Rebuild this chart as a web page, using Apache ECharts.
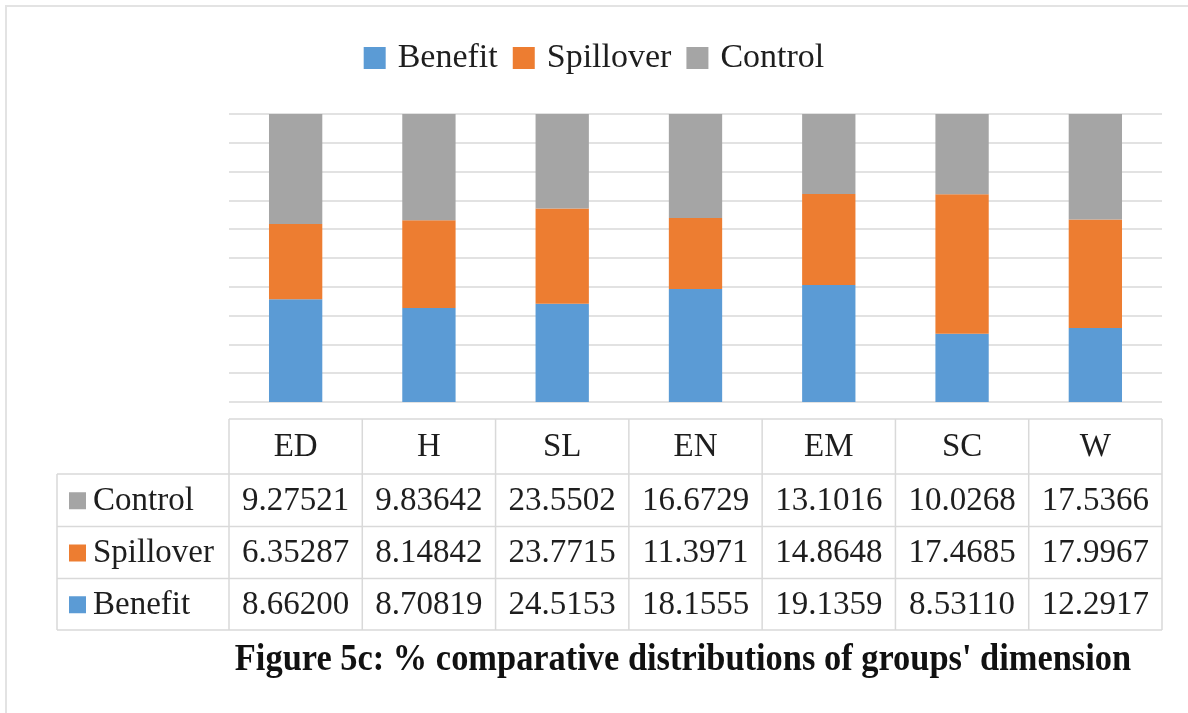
<!DOCTYPE html>
<html>
<head>
<meta charset="utf-8">
<script src="https://cdn.jsdelivr.net/npm/echarts@6/dist/echarts.min.js"></script>
<style>
  html, body { margin: 0; padding: 0; background: #fff; }
  #canvasWrap { width: 1188px; height: 713px; }
</style>
</head>
<body>
<div id="canvasWrap"></div>
<script>
const categories = ['ED', 'H', 'SL', 'EN', 'EM', 'SC', 'W'];
const benefit = [8.66200, 8.70819, 24.5153, 18.1555, 19.1359, 8.53110, 12.2917];
const spillover = [6.35287, 8.14842, 23.7715, 11.3971, 14.8648, 17.4685, 17.9967];
const control = [9.27521, 9.83642, 23.5502, 16.6729, 13.1016, 10.0268, 17.5366];

// table rows, top to bottom as in the figure
const tableRows = [
    { name: 'Control', values: control, color: '#A5A5A5' },
    { name: 'Spillover', values: spillover, color: '#ED7D31' },
    { name: 'Benefit', values: benefit, color: '#5B9BD5' }
];

const FONT = '"Liberation Serif", "Times New Roman", serif';
const TEXT = '#1e1e1e';
const LINE = '#d9d9d9';

// 100% stacked: share of each group in a category
function toPercent(arr) {
    return arr.map((v, i) => v / (benefit[i] + spillover[i] + control[i]) * 100);
}

function makeSeries(name, arr, color) {
    return {
        name: name,
        type: 'bar',
        stack: 'all',
        barWidth: '40%',
        itemStyle: { color: color },
        data: toPercent(arr)
    };
}

const myChart = echarts.init(document.getElementById('canvasWrap'));

const option = {
    backgroundColor: '#fff',
    animation: false,
    legend: {
        top: 36,
        left: 'center',
        icon: 'rect',
        itemWidth: 22,
        itemHeight: 22,
        itemGap: 15,
        textStyle: {
            fontFamily: FONT,
            fontSize: 34,
            color: TEXT,
            padding: [0, 0, 0, 7]
        },
        data: ['Benefit', 'Spillover', 'Control']
    },
    grid: { left: 229, right: 26, top: 114, bottom: 311 },
    xAxis: {
        type: 'category',
        data: categories,
        axisLine: { show: false },
        axisTick: { show: false },
        axisLabel: { show: false }
    },
    yAxis: {
        type: 'value',
        min: 0,
        max: 100,
        interval: 10,
        axisLabel: { show: false },
        axisLine: { show: false },
        axisTick: { show: false },
        splitLine: { lineStyle: { color: LINE, width: 1.5 } }
    },
    series: [
        makeSeries('Benefit', benefit, '#5B9BD5'),
        makeSeries('Spillover', spillover, '#ED7D31'),
        makeSeries('Control', control, '#A5A5A5')
    ]
};

myChart.setOption(option);

// data table under the plot, columns follow the category bands
function buildTable() {
    const els = [];
    const left = 229, right = 1162, labelLeft = 57;
    const rowY = [419, 474, 526.5, 578.5, 630];
    const band = (right - left) / categories.length;
    const line = (x1, y1, x2, y2) => ({
        type: 'line',
        shape: { x1: x1, y1: y1, x2: x2, y2: y2 },
        style: { stroke: LINE, lineWidth: 1.5 }
    });
    const text = (str, x, y, align) => ({
        type: 'text',
        x: x,
        y: y,
        style: {
            text: str,
            fill: TEXT,
            font: '33px ' + FONT,
            textAlign: align || 'center',
            textVerticalAlign: 'middle'
        }
    });

    // horizontal rules
    els.push(line(left, rowY[0], right, rowY[0]));
    for (let r = 1; r < rowY.length; r++) {
        els.push(line(labelLeft, rowY[r], right, rowY[r]));
    }
    // vertical rules
    els.push(line(labelLeft, rowY[1], labelLeft, rowY[4]));
    for (let c = 0; c <= categories.length; c++) {
        const x = left + c * band;
        els.push(line(x, rowY[0], x, rowY[4]));
    }

    categories.forEach((cat, i) => {
        const cx = myChart.convertToPixel({ xAxisIndex: 0 }, cat);
        els.push(text(cat, cx, (rowY[0] + rowY[1]) / 2 + 1));
        tableRows.forEach((row, r) => {
            const cy = (rowY[r + 1] + rowY[r + 2]) / 2 + 1;
            els.push(text(row.values[i].toFixed(row.values[i] < 10 ? 5 : 4), cx, cy));
        });
    });

    tableRows.forEach((row, r) => {
        const cy = (rowY[r + 1] + rowY[r + 2]) / 2;
        els.push({
            type: 'rect',
            shape: { x: 69, y: cy - 8, width: 17, height: 17 },
            style: { fill: row.color }
        });
        els.push(text(row.name, 93, cy + 1, 'left'));
    });

    // caption, slightly condensed like the original
    els.push({
        type: 'text',
        x: 683,
        y: 660,
        scaleX: 0.93,
        style: {
            text: "Figure 5c: % comparative distributions of groups' dimension",
            fill: '#111',
            font: 'bold 37px ' + FONT,
            textAlign: 'center',
            textVerticalAlign: 'middle'
        }
    });

    // light frame around the figure
    els.push({
        type: 'rect',
        shape: { x: 6, y: 6, width: 1300, height: 800 },
        style: { fill: 'none', stroke: '#e3e3e3', lineWidth: 2 }
    });

    return els;
}

myChart.setOption({ graphic: { elements: buildTable() } });
</script>
</body>
</html>
